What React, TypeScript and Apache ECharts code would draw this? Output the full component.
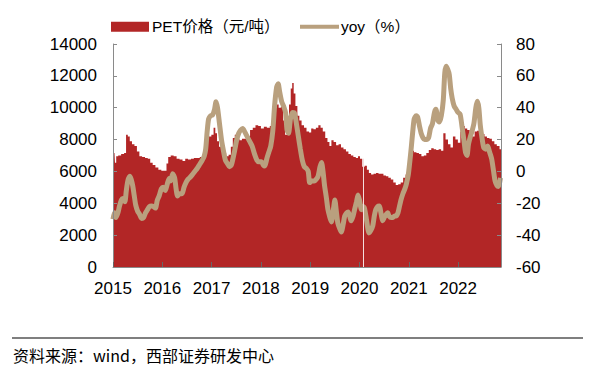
import React, { useEffect, useRef } from "react";
import * as echarts from "echarts";

// Time stamps (decimal years) and PET price (元/吨)
const priceT = [
  2015.00, 2015.03, 2015.05, 2015.08, 2015.13, 2015.20, 2015.25, 2015.28, 2015.32, 2015.36,
  2015.41, 2015.46, 2015.51, 2015.56, 2015.62, 2015.68, 2015.73, 2015.78, 2015.83, 2015.89,
  2015.95, 2016.01, 2016.07, 2016.10, 2016.14, 2016.20, 2016.26, 2016.32, 2016.38, 2016.44,
  2016.49, 2016.55, 2016.61, 2016.67, 2016.73, 2016.79, 2016.85, 2016.88, 2016.92, 2016.97,
  2017.02, 2017.06, 2017.09, 2017.13, 2017.17, 2017.22, 2017.27, 2017.32, 2017.37, 2017.41,
  2017.45, 2017.49, 2017.54, 2017.59, 2017.64, 2017.69, 2017.75, 2017.81, 2017.86, 2017.92,
  2017.97, 2018.03, 2018.09, 2018.15, 2018.21, 2018.27, 2018.30, 2018.34, 2018.38, 2018.43,
  2018.47, 2018.51, 2018.55, 2018.59, 2018.62, 2018.65, 2018.68, 2018.72, 2018.76, 2018.80,
  2018.85, 2018.90, 2018.95, 2019.00, 2019.04, 2019.09, 2019.14, 2019.19, 2019.23, 2019.28,
  2019.33, 2019.37, 2019.41, 2019.45, 2019.50, 2019.55, 2019.60, 2019.65, 2019.70, 2019.75,
  2019.80, 2019.85, 2019.90, 2019.95, 2019.99, 2020.03, 2020.08, 2020.13, 2020.17, 2020.21,
  2020.26, 2020.31, 2020.36, 2020.41, 2020.46, 2020.51, 2020.56, 2020.61, 2020.66, 2020.71,
  2020.76, 2020.81, 2020.86, 2020.91, 2020.96, 2021.00, 2021.04, 2021.08, 2021.13, 2021.18,
  2021.23, 2021.28, 2021.33, 2021.38, 2021.43, 2021.48, 2021.53, 2021.58, 2021.63, 2021.68,
  2021.72, 2021.77, 2021.82, 2021.87, 2021.92, 2021.97, 2022.02, 2022.07, 2022.11, 2022.16,
  2022.21, 2022.26, 2022.31, 2022.36, 2022.41, 2022.46, 2022.51, 2022.56, 2022.61, 2022.66,
  2022.71, 2022.76, 2022.81, 2022.87,
];
const priceV = [
  7200, 7150, 6550, 6950, 7000, 7100, 7150, 8300, 8200, 7900,
  7700, 7600, 7250, 6950, 6900, 6850, 6800, 6550, 6400, 6250,
  6100, 6050, 6050, 6500, 6900, 7000, 6950, 6800, 6750, 6650,
  6800, 6750, 6800, 6850, 6850, 6900, 7000, 7900, 8300, 8200,
  8300, 8750, 8400, 7900, 7550, 7350, 7150, 6950, 7050, 7550,
  8100, 8300, 8050, 7950, 8050, 8050, 8200, 8600, 8750, 8900,
  8850, 8700, 8800, 8750, 8850, 8900, 10000, 10200, 10000, 10050,
  9200, 8300, 8600, 10200, 11200, 11550, 10900, 10100, 9500, 9200,
  8900, 8750, 8500, 8450, 8700, 8650, 8750, 8900, 8750, 8500,
  8100, 7850, 7600, 7950, 7850, 7650, 7700, 7500, 7400, 7250,
  7100, 7000, 6900, 6850, 6950, 6800, 6300, 6350, 6100, 5900,
  5800, 5850, 5900, 5850, 5850, 5750, 5700, 5600, 5500, 5300,
  5150, 5200, 5300, 5600, 5800, 6300, 7000, 7300, 7200, 7150,
  7100, 6950, 7000, 7150, 7350, 7450, 7400, 7350, 7400, 7300,
  8400, 8000, 7700, 7500, 8200, 8000, 7800, 8500, 8850, 8700,
  8600, 8400, 8200, 8500, 8550, 8300, 8350, 8200, 8100, 8050,
  7900, 7700, 7600, 7400,
];

// Time stamps (decimal years) and yoy (%)
const yoyT = [
  2015.00, 2015.03, 2015.06, 2015.10, 2015.13, 2015.17, 2015.20, 2015.24, 2015.27, 2015.30,
  2015.34, 2015.37, 2015.40, 2015.43, 2015.46, 2015.50, 2015.54, 2015.58, 2015.62, 2015.66,
  2015.70, 2015.74, 2015.78, 2015.82, 2015.86, 2015.90, 2015.94, 2015.98, 2016.02, 2016.06,
  2016.10, 2016.14, 2016.17, 2016.21, 2016.25, 2016.28, 2016.31, 2016.35, 2016.40, 2016.44,
  2016.48, 2016.52, 2016.56, 2016.61, 2016.66, 2016.71, 2016.76, 2016.81, 2016.85, 2016.88,
  2016.91, 2016.94, 2016.98, 2017.02, 2017.06, 2017.09, 2017.12, 2017.16, 2017.20, 2017.24,
  2017.28, 2017.32, 2017.36, 2017.40, 2017.44, 2017.47, 2017.51, 2017.55, 2017.59, 2017.63,
  2017.67, 2017.72, 2017.77, 2017.82, 2017.87, 2017.92, 2017.96, 2018.01, 2018.05, 2018.08,
  2018.12, 2018.16, 2018.20, 2018.24, 2018.28, 2018.32, 2018.35, 2018.38, 2018.42, 2018.46,
  2018.50, 2018.53, 2018.56, 2018.60, 2018.64, 2018.68, 2018.72, 2018.76, 2018.80, 2018.84,
  2018.88, 2018.92, 2018.96, 2018.99, 2019.03, 2019.08, 2019.12, 2019.16, 2019.20, 2019.23,
  2019.26, 2019.29, 2019.33, 2019.36, 2019.40, 2019.43, 2019.47, 2019.50, 2019.53, 2019.56,
  2019.60, 2019.63, 2019.67, 2019.70, 2019.74, 2019.77, 2019.80, 2019.83, 2019.87, 2019.90,
  2019.94, 2019.97, 2020.00, 2020.04, 2020.07, 2020.10, 2020.14, 2020.17, 2020.19, 2020.23,
  2020.27, 2020.30, 2020.33, 2020.37, 2020.40, 2020.44, 2020.47, 2020.50, 2020.54, 2020.57,
  2020.60, 2020.64, 2020.67, 2020.71, 2020.74, 2020.78, 2020.81, 2020.84, 2020.88, 2020.92,
  2020.95, 2020.99, 2021.02, 2021.05, 2021.08, 2021.11, 2021.15, 2021.18, 2021.22, 2021.25,
  2021.29, 2021.32, 2021.36, 2021.40, 2021.44, 2021.48, 2021.52, 2021.55, 2021.59, 2021.62,
  2021.66, 2021.70, 2021.73, 2021.76, 2021.79, 2021.82, 2021.85, 2021.88, 2021.92, 2021.96,
  2022.00, 2022.04, 2022.08, 2022.12, 2022.15, 2022.18, 2022.21, 2022.25, 2022.28, 2022.32,
  2022.36, 2022.39, 2022.42, 2022.45, 2022.49, 2022.52, 2022.56, 2022.60, 2022.64, 2022.68,
  2022.72, 2022.75, 2022.79, 2022.82, 2022.86,
];
const yoyV = [
  -30, -26, -29, -26, -22, -18, -17, -19, -12, -6,
  -3, -5, -9, -15, -21, -25, -27, -29.5, -29, -26,
  -24, -22, -21.7, -22, -23, -18, -15, -11, -10, -12,
  -8, -4.4, -6, -1.5, -4, -11, -15.4, -14, -14, -10,
  -7, -5, -3.8, -2, 0, 2, 4.5, 7, 9.5, 14,
  25, 33, 35, 35.5, 39, 43.8, 40, 30, 20, 13,
  7, 5, 3, 4, 9, 13.4, 20, 24, 26, 27,
  25, 22, 19, 16, 11, 7, 6, 6, 4, 3.4,
  8, 12, 16, 25, 42, 53, 55, 50, 44, 41,
  37, 26, 24, 33, 37, 36.7, 30, 22, 14, 7,
  3, 2, 0, -7, -6, -6, -5, -3, 3, 5.6,
  0, -8.6, -17, -24, -29, -31.7, -24, -18, -25, -32.4,
  -36, -38, -33, -28, -26, -25.5, -28, -31, -28, -24,
  -19, -14.8, -18, -24, -22, -23, -30, -36, -38.6, -37,
  -34, -28, -24, -22, -21.7, -27, -31, -29, -27, -26,
  -28, -29, -29, -28, -28, -26, -22, -18, -14, -11,
  -8, -2, 6, 15, 25, 33, 35, 34, 28, 24,
  21, 20, 20, 21, 27, 30, 37, 39, 32, 31,
  35, 45, 62, 66, 64, 61, 52, 46, 41, 39,
  37, 36, 28, 19, 12, 10, 17, 22, 25, 30,
  40, 44, 40, 29, 20, 15, 14, 16, 12, 8,
  0, -6, -9, -9.5, -4,
];

const yearTicks = [2015, 2016, 2017, 2018, 2019, 2020, 2021, 2022];
const gapDate = 2020.07; // missing week (Spring Festival) shown as a thin white gap

const PRICE_NAME = "PET价格（元/吨）";
const YOY_NAME = "yoy（%）";
const RED = "#B22626";
const TAN = "#B9A07E";
const FONT = "'Liberation Sans', Arial, 'Noto Sans CJK SC', sans-serif";

export default function App() {
  const ref = useRef<HTMLDivElement>(null);

  useEffect(() => {
    if (!ref.current) return;
    const chart = echarts.init(ref.current, undefined, { renderer: "svg" });

    const priceData = priceT.map((t, i) => [t, priceV[i]]);
    const yoyData = yoyT.map((t, i) => [t, yoyV[i]]);

    const labelStyle = {
      color: "#000",
      fontSize: 17,
      fontFamily: FONT,
      formatter: (v: number) => String(v),
    };
    const axisCommon = {
      axisLine: { show: true, lineStyle: { color: "#8a8a8a", width: 1 } },
      axisTick: { show: true, inside: true, length: 4, lineStyle: { color: "#8a8a8a" } },
      splitLine: { show: false },
      z: 5,
    };

    chart.setOption({
      animation: false,
      backgroundColor: "#fff",
      textStyle: { fontFamily: FONT },
      grid: { left: 113, right: 99, top: 44, bottom: 111, containLabel: false },
      legend: [
        {
          data: [PRICE_NAME],
          left: 106,
          top: 14,
          icon: "rect",
          itemWidth: 38,
          itemHeight: 10,
          textStyle: { fontSize: 15.5, color: "#000", fontFamily: FONT, padding: [0, 0, 0, -2] },
        },
        {
          data: [YOY_NAME],
          left: 295,
          top: 14,
          icon: "rect",
          itemWidth: 39,
          itemHeight: 4,
          textStyle: { fontSize: 15.5, color: "#000", fontFamily: FONT, padding: [0, 0, 0, -3] },
        },
      ],
      xAxis: {
        type: "value",
        min: yearTicks[0],
        max: 2022.87,
        interval: 1,
        ...axisCommon,
        axisTick: { show: true, inside: true, length: 5, lineStyle: { color: "#666" } },
        axisLabel: {
          color: "#000",
          fontSize: 17,
          fontFamily: FONT,
          margin: 13,
          showMaxLabel: false,
          formatter: (v: number) => (yearTicks.includes(v) ? String(v) : ""),
        },
      },
      yAxis: [
        {
          type: "value",
          min: 0,
          max: 14000,
          interval: 2000,
          ...axisCommon,
          axisLabel: { ...labelStyle, margin: 16 },
        },
        {
          type: "value",
          position: "right",
          min: -60,
          max: 80,
          interval: 20,
          ...axisCommon,
          axisLabel: { ...labelStyle, margin: 15 },
        },
      ],
      series: [
        {
          name: PRICE_NAME,
          type: "line",
          data: priceData,
          step: "middle",
          symbol: "none",
          lineStyle: { width: 0, color: RED },
          itemStyle: { color: RED },
          areaStyle: { color: RED, opacity: 1 },
          markLine: {
            silent: true,
            symbol: "none",
            label: { show: false },
            lineStyle: { color: "#f4dede", width: 1, type: "solid" },
            data: [[{ coord: [gapDate, 0] }, { coord: [gapDate, 6800] }]],
          },
        },
        {
          name: YOY_NAME,
          type: "line",
          yAxisIndex: 1,
          data: yoyData,
          smooth: 0.25,
          symbol: "none",
          lineStyle: { width: 5, color: TAN },
          itemStyle: { color: TAN },
        },
      ],
      graphic: [
        {
          type: "line",
          shape: { x1: 12, y1: 338, x2: 583, y2: 338 },
          style: { stroke: "#555", lineWidth: 1.5 },
        },
        {
          type: "text",
          left: 13,
          top: 347,
          style: {
            text: "资料来源：wind，西部证券研发中心",
            fontSize: 16,
            fill: "#000",
            fontFamily: "'Noto Sans CJK SC', 'Liberation Sans', sans-serif",
          },
        },
      ],
    });

    return () => chart.dispose();
  }, []);

  return (
    <div
      ref={ref}
      style={{ position: "absolute", left: 0, top: 0, width: 600, height: 378, background: "#fff" }}
    />
  );
}
